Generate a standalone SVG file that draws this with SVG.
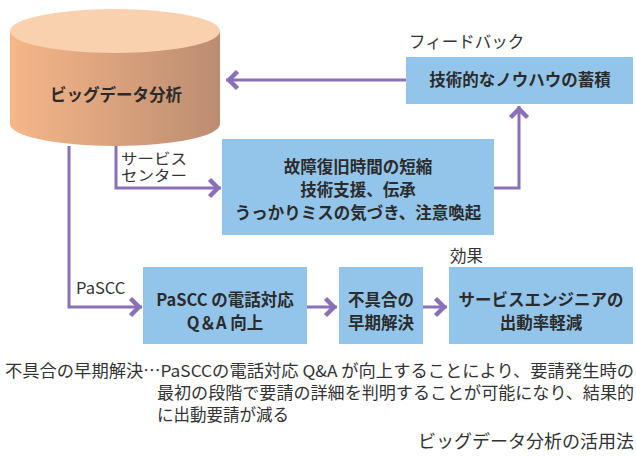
<svg xmlns="http://www.w3.org/2000/svg" width="636" height="457" viewBox="0 0 636 457">
<defs>
<linearGradient id="cylBody" x1="0" y1="0" x2="1" y2="0">
<stop offset="0" stop-color="#F6B788"/>
<stop offset="1" stop-color="#BC8C72"/>
</linearGradient>
<marker id="chev" markerUnits="userSpaceOnUse" markerWidth="20" markerHeight="24" viewBox="-14 -12 16 24" refX="0" refY="0" orient="auto">
<path d="M-11.5,-8.5 L-3,0 L-11.5,8.5" fill="none" stroke="#8A70B8" stroke-width="4.5" stroke-linejoin="miter"/>
</marker>
<style>
.box{fill:#93C5EA;}
.bt{font-family:"Noto Sans CJK JP","Noto Sans",sans-serif;font-size:16.5px;font-weight:bold;fill:#2b2b2b;text-anchor:middle;}
.lb{font-family:"Noto Sans CJK JP","Noto Sans",sans-serif;font-size:16.5px;fill:#333;}
.ln{fill:none;stroke:#8A70B8;stroke-width:3;}
.ar{marker-end:url(#chev);}
</style>
</defs>
<rect width="636" height="457" fill="#ffffff"/>

<g id="bigdata">
<path d="M10,31 L10,124 A105,22 0 0 0 220,124 L220,31 Z" fill="url(#cylBody)"/>
<ellipse cx="115" cy="31" rx="105" ry="22" fill="#FAD1AF"/>
<text class="bt" x="116" y="101">ビッグデータ分析</text>
</g>

<g id="knowhow">
<rect class="box" x="406" y="57" width="227" height="47"/>
<text class="bt" x="520" y="86">技術的なノウハウの蓄積</text>
</g>

<g id="service">
<rect class="box" x="222" y="139" width="272" height="96"/>
<text class="bt" x="358" y="173">故障復旧時間の短縮</text>
<text class="bt" x="358" y="196">技術支援、伝承</text>
<text class="bt" x="358" y="219">うっかりミスの気づき、注意喚起</text>
</g>

<g id="pascc">
<rect class="box" x="143" y="267" width="164" height="77"/>
<text class="bt" x="225" y="306">PaSCC の電話対応</text>
<text class="bt" x="225" y="329">Q＆A 向上</text>
</g>

<g id="early">
<rect class="box" x="339" y="267" width="84" height="77"/>
<text class="bt" x="381" y="306">不具合の</text>
<text class="bt" x="381" y="329">早期解決</text>
</g>

<g id="engineer">
<rect class="box" x="449" y="267" width="184" height="77"/>
<text class="bt" x="541" y="306">サービスエンジニアの</text>
<text class="bt" x="541" y="329">出動率軽減</text>
</g>

<g id="connectors">
<path class="ln ar" d="M406,80 L226,80"/>
<path class="ln ar" d="M494,188 L519,188 L519,106"/>
<path class="ln ar" d="M116,146 L116,188 L221,188"/>
<path class="ln ar" d="M69,146 L69,307 L142,307"/>
<path class="ln ar" d="M307,307 L337,307"/>
<path class="ln ar" d="M423,307 L447,307"/>
</g>

<g id="labels">
<text class="lb" x="409" y="48">フィードバック</text>
<text class="lb" x="121" y="164" style="font-size:14.5px" textLength="66" lengthAdjust="spacingAndGlyphs">サービス</text>
<text class="lb" x="121" y="181" style="font-size:14.5px" textLength="66" lengthAdjust="spacingAndGlyphs">センター</text>
<text class="lb" x="76" y="294">PaSCC</text>
<text class="lb" x="450" y="262">効果</text>
</g>

<g id="note">
<text class="lb" x="5" y="377" textLength="629" lengthAdjust="spacingAndGlyphs">不具合の早期解決…PaSCCの電話対応 Q&amp;A が向上することにより、要請発生時の</text>
<text class="lb" x="157" y="399" textLength="477" lengthAdjust="spacingAndGlyphs">最初の段階で要請の詳細を判明することが可能になり、結果的</text>
<text class="lb" x="157" y="421">に出動要請が減る</text>
<text class="lb" x="634" y="448" style="text-anchor:end;font-size:18px">ビッグデータ分析の活用法</text>
</g>
</svg>
